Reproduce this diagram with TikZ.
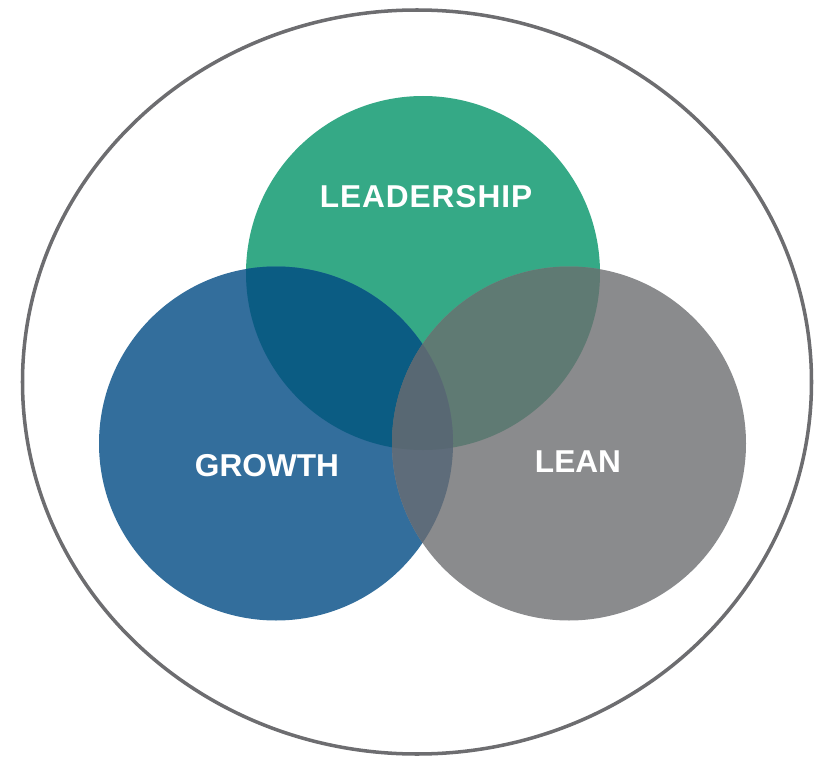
\documentclass[tikz,border=0pt]{standalone}
\usepackage{fontspec}
\setmainfont{Liberation Sans}
\usepackage{xcolor}
\usepackage{tikz}
\usetikzlibrary{positioning}

\definecolor{leadgreen}{HTML}{35A986}
\definecolor{growblue}{HTML}{336E9C}
\definecolor{leangray}{HTML}{8A8B8D}
\definecolor{lgblue}{HTML}{0B5C83}
\definecolor{llgray}{HTML}{5F7A73}
\definecolor{glgray}{HTML}{5E6C7A}
\definecolor{coregray}{HTML}{586873}
\definecolor{rimgray}{HTML}{6D6D70}

\begin{document}
\begin{tikzpicture}[x=0.02cm, y=-0.02cm,
    label/.style={text=white, font=\fontsize{18}{22}\selectfont\bfseries, inner sep=0pt, anchor=base}]
\useasboundingbox (0,0) rectangle (822,757);

\coordinate (lead) at (423,273);
\coordinate (grow) at (276,443.5);
\coordinate (lean) at (569,443.5);

\draw[rimgray, line width=2pt] (417,382) ellipse [x radius=394.5, y radius=372];

\fill[leadgreen] (lead) circle (177);
\fill[growblue] (grow) circle (177);
\fill[leangray] (lean) circle (177);

\begin{scope}
  \clip (lead) circle (177);
  \fill[lgblue] (grow) circle (177);
  \fill[llgray] (lean) circle (177);
\end{scope}
\begin{scope}
  \clip (grow) circle (177);
  \fill[glgray] (lean) circle (177);
  \clip (lead) circle (177);
  \fill[coregray] (lean) circle (177);
\end{scope}

\node[label] (leadtxt) at (426,208) {\addfontfeature{LetterSpace=3}LEADERSHIP};
\node[label] (growtxt) at (267,476) {GROWTH};
\node[label] (leantxt) at (578,472.3) {LEAN};
\end{tikzpicture}
\end{document}
